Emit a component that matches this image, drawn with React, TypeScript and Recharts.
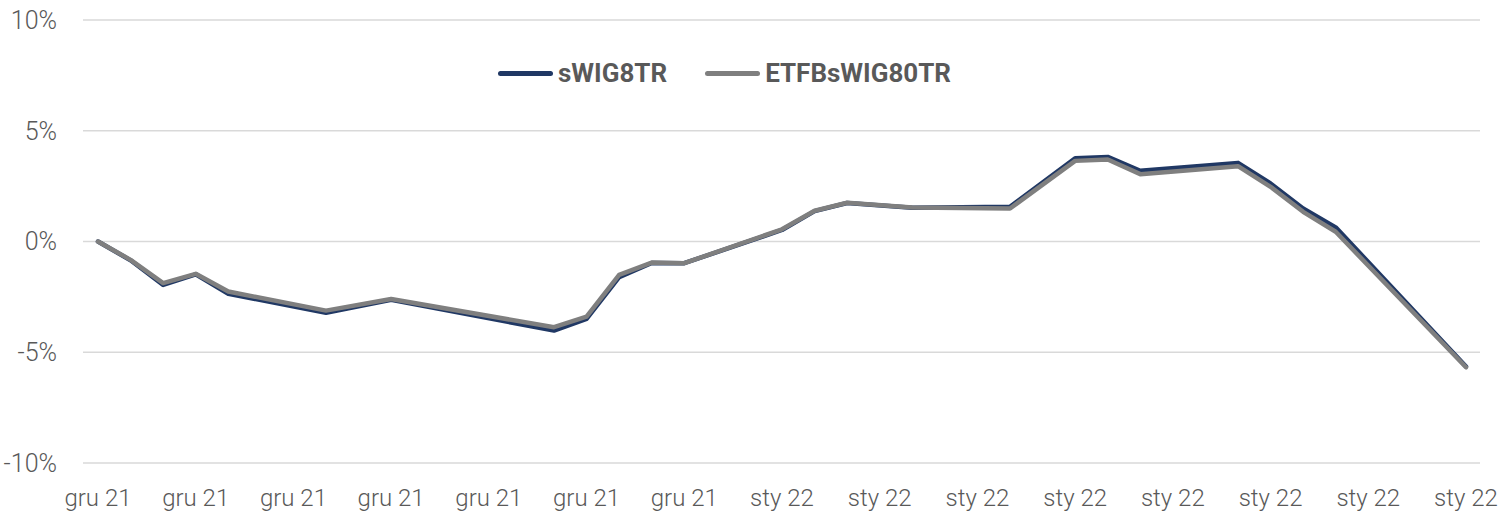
import { LineChart, Line, XAxis, YAxis, CartesianGrid, Legend } from 'recharts'

// trading days shown on the chart
const dates = [
  '2021-12-13', '2021-12-14', '2021-12-15', '2021-12-16', '2021-12-17',
  '2021-12-20', '2021-12-22', '2021-12-27', '2021-12-28', '2021-12-29',
  '2021-12-30', '2021-12-31', '2022-01-03', '2022-01-04', '2022-01-05',
  '2022-01-07', '2022-01-10', '2022-01-12', '2022-01-13', '2022-01-14',
  '2022-01-17', '2022-01-18', '2022-01-19', '2022-01-20', '2022-01-24',
]

// cumulative return, %
const swig80tr = [
  0, -0.85, -1.96, -1.48, -2.36, -3.22, -2.63, -4.02, -3.49, -1.61,
  -0.97, -0.98, 0.52, 1.37, 1.74, 1.52, 1.57, 3.76, 3.82, 3.19,
  3.55, 2.62, 1.49, 0.64, -5.64,
]
const etfbswig80tr = [
  0, -0.83, -1.88, -1.46, -2.26, -3.12, -2.6, -3.87, -3.39, -1.51,
  -0.95, -0.98, 0.55, 1.39, 1.75, 1.54, 1.49, 3.64, 3.7, 3.04,
  3.4, 2.47, 1.34, 0.44, -5.68,
]

const seriesOrder = ['swig', 'etf']

const xTickLabels = [
  'gru 21', 'gru 21', 'gru 21', 'gru 21', 'gru 21', 'gru 21', 'gru 21',
  'sty 22', 'sty 22', 'sty 22', 'sty 22', 'sty 22', 'sty 22', 'sty 22', 'sty 22',
]
const yTicks = [-10, -5, 0, 5, 10]

const DAY = 24 * 3600 * 1000
const start = Date.UTC(2021, 11, 13)
const dayOf = (d: string) => Math.round((Date.parse(d + 'T00:00:00Z') - start) / DAY)

const data = dates.map((d, i) => ({
  day: dayOf(d),
  swig: swig80tr[i],
  etf: etfbswig80tr[i],
}))
const lastDay = dayOf(dates[dates.length - 1])
const xTicks = xTickLabels.map((_, i) => i * 3)

const renderLegend = (props: any) => {
  const items = [...(props.payload || [])].sort(
    (a: any, b: any) => seriesOrder.indexOf(a.dataKey) - seriesOrder.indexOf(b.dataKey)
  )
  return (
    <div style={{ display: 'flex', alignItems: 'center' }}>
      {items.map((it: any, i: number) => (
        <div key={i} style={{ display: 'flex', alignItems: 'center', marginRight: 38 }}>
          <span
            style={{
              display: 'inline-block',
              width: 55,
              height: 5,
              borderRadius: 3,
              background: it.color,
              marginRight: 5,
            }}
          />
          <span style={{ fontWeight: 700, fontSize: 26, color: '#595959' }}>{it.value}</span>
        </div>
      ))}
    </div>
  )
}

export default function App() {
  return (
    <div
      style={{
        position: 'absolute',
        left: 0,
        top: 0,
        width: 1503,
        height: 524,
        background: '#fff',
        fontFamily: 'Roboto, "DejaVu Sans", sans-serif',
      }}
    >
      <LineChart width={1503} height={524} data={data} margin={{ top: 20, right: 23, bottom: 0, left: 0 }}>
        <CartesianGrid vertical={false} stroke="#d9d9d9" strokeWidth={1.5} />
        <XAxis
          dataKey="day"
          type="number"
          domain={[0, lastDay]}
          ticks={xTicks}
          interval={0}
          tickFormatter={(v: number) => xTickLabels[v / 3] ?? ''}
          axisLine={false}
          tickLine={false}
          tickSize={0}
          tickMargin={26}
          height={61}
          padding={{ left: 15, right: 14 }}
          tick={{ fill: '#595959', fontSize: 24, fontWeight: 300 }}
        />
        <YAxis
          domain={[-10, 10]}
          ticks={yTicks}
          interval={0}
          tickFormatter={(v: number) => `${v}%`}
          axisLine={false}
          tickLine={false}
          tickSize={0}
          tickMargin={26}
          width={83}
          tick={{ fill: '#595959', fontSize: 25, fontWeight: 300 }}
        />
        <Legend
          layout="horizontal"
          verticalAlign="middle"
          align="center"
          content={renderLegend}
          wrapperStyle={{ top: 58, left: 498, width: 'auto' }}
        />
        <Line
          name="sWIG8TR"
          dataKey="swig"
          stroke="#203864"
          strokeWidth={4.5}
          dot={false}
          strokeLinejoin="round"
          strokeLinecap="round"
          isAnimationActive={false}
        />
        <Line
          name="ETFBsWIG80TR"
          dataKey="etf"
          stroke="#7f7f7f"
          strokeWidth={4.5}
          dot={false}
          strokeLinejoin="round"
          strokeLinecap="round"
          isAnimationActive={false}
        />
      </LineChart>
    </div>
  )
}
